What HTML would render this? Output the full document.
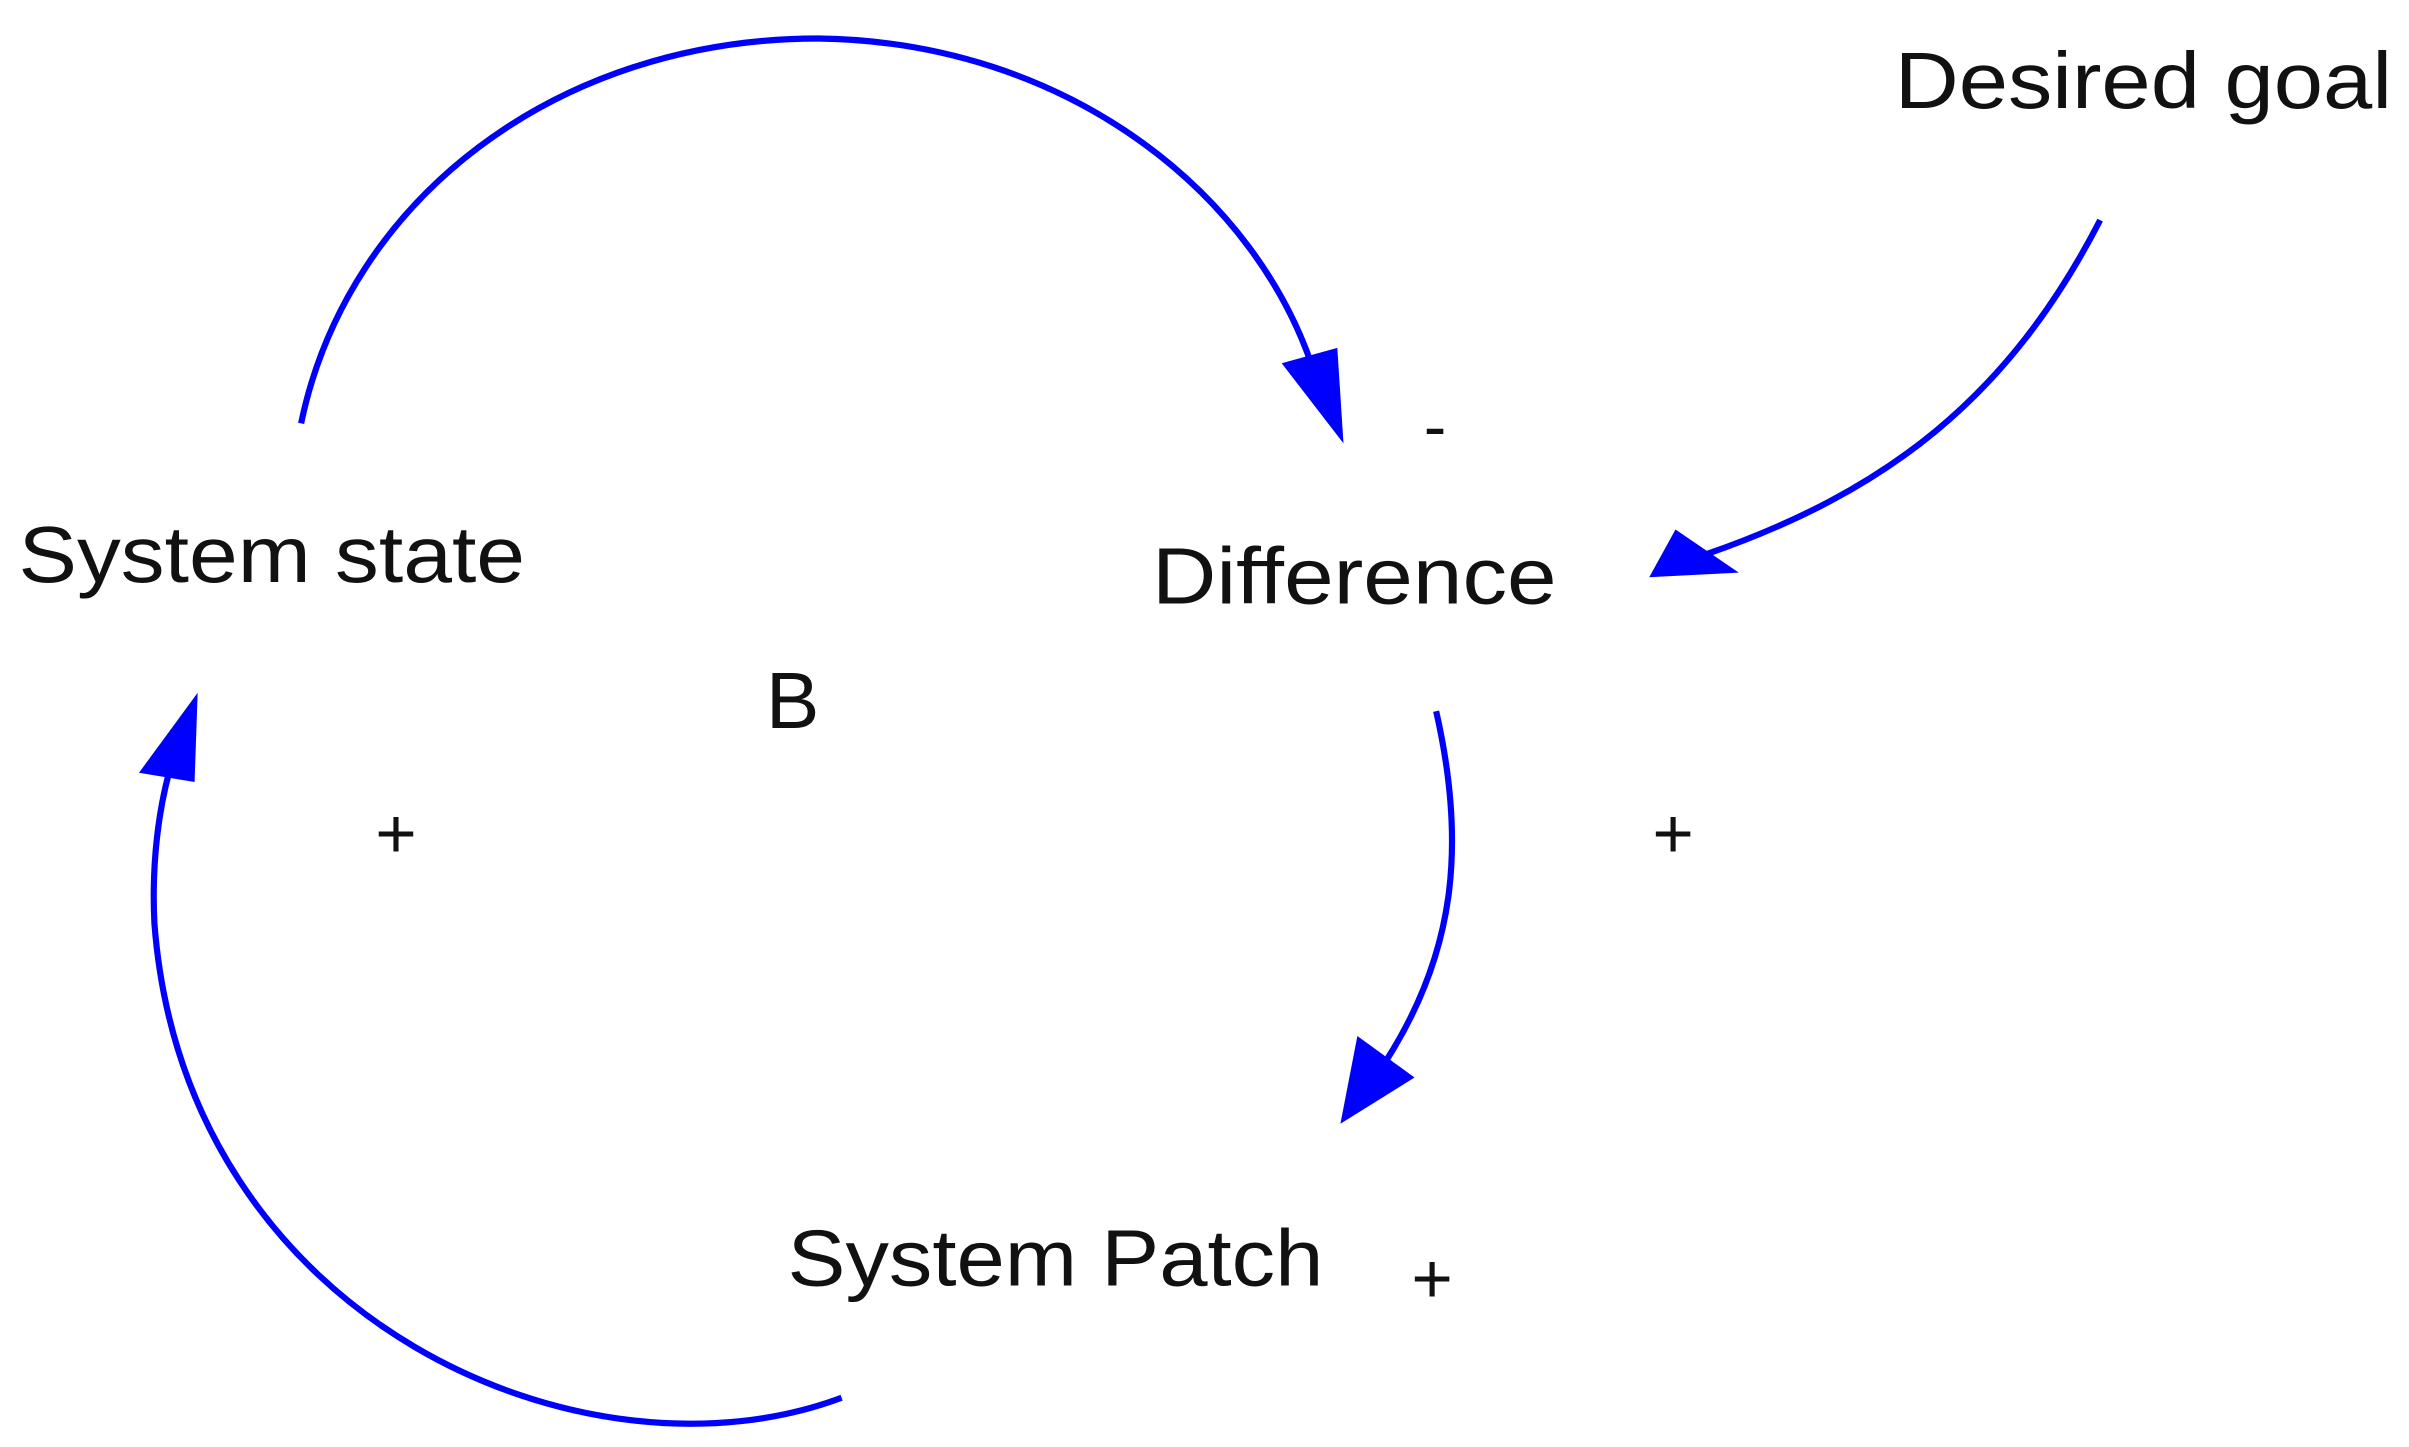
<!DOCTYPE html>
<html><head><style>
html,body{margin:0;padding:0;background:#fff;}
svg{display:block;}
text{font-family:"Liberation Sans",Arial,sans-serif;fill:#111;}
</style></head><body>
<svg width="2409" height="1447" viewBox="0 0 1560 940" preserveAspectRatio="none" xmlns="http://www.w3.org/2000/svg">
<g fill="none" stroke="#0000ff" stroke-width="4">
<path d="M195,275 C225,130 360,25 530,25 C690,27 815,125 852,245"/>
<path d="M1360,143 C1300,260 1220,320 1105,360"/>
<path d="M930,462 C950,550 942,620 897,690"/>
<path d="M545,908 C380,970 120,860 100,600 C98,560 103,525 110,500"/>
</g>
<g fill="#0000ff">
<polygon points="870,288 830,236 866,226"/>
<polygon points="1068,375 1085,344 1126,372"/>
<polygon points="868,730 879,673 916,700"/>
<polygon points="128,450 90,502 126,508"/>
</g>
<text x="12" y="378" font-size="52" textLength="328" lengthAdjust="spacingAndGlyphs">System state</text>
<text x="746" y="392" font-size="52" textLength="262" lengthAdjust="spacingAndGlyphs">Difference</text>
<text x="1227" y="70" font-size="52" textLength="322" lengthAdjust="spacingAndGlyphs">Desired goal</text>
<text x="510" y="835" font-size="52" textLength="347" lengthAdjust="spacingAndGlyphs">System Patch</text>
<text x="496" y="473" font-size="52">B</text>
<text x="922" y="292" font-size="44">-</text>
<text x="243" y="557" font-size="46">+</text>
<text x="1070" y="557" font-size="46">+</text>
<text x="914" y="846" font-size="46">+</text>
</svg>
</body></html>
